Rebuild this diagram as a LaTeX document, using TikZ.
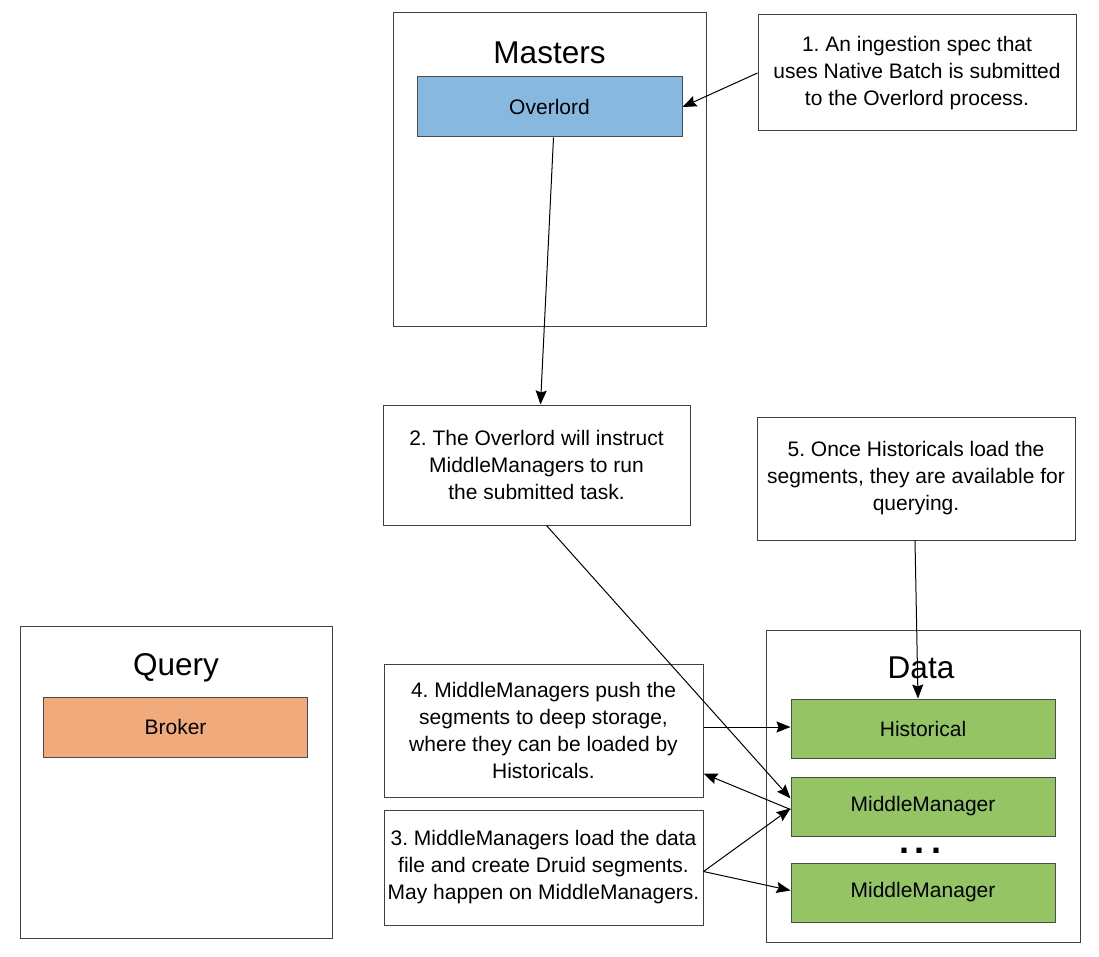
\documentclass[tikz,border=0pt]{standalone}
\usepackage{fontspec}
\setmainfont{Liberation Sans}
\usepackage{xcolor}
\usetikzlibrary{arrows.meta}
\frenchspacing
\definecolor{overlordblue}{RGB}{134,184,224}
\definecolor{brokerorange}{RGB}{240,170,124}
\definecolor{datagreen}{RGB}{148,196,100}
\tikzset{every picture/.style={x=1pt,y=-1pt,>={Stealth[length=14pt,width=11pt,inset=2pt]}},
  group/.style={rectangle,draw=black!75,line width=1pt,minimum width=313pt,minimum height=313pt},
  grouptitle/.style={anchor=base,inner sep=0pt,font=\fontsize{31.5}{34}\selectfont},
  proc/.style={rectangle,draw=black!70,line width=1pt,minimum width=264pt,minimum height=59pt,font=\fontsize{21}{27}\selectfont},
  note/.style={rectangle,draw=black!75,line width=1pt,align=center,inner sep=0pt,font=\fontsize{21}{27}\selectfont},
  flow/.style={->,line width=1pt}}

\begin{document}
\begin{tikzpicture}
        \useasboundingbox (0,0) rectangle (1099,957);

        % groups
        \node[group] (masters) at (549.5,169.5) {};
        \node[grouptitle] (masterstitle) at (549.5,64) {Masters};
        \node[group, minimum width=312pt, minimum height=312pt] (query) at (176,782) {};
        \node[grouptitle] (querytitle) at (176,675) {Query};
        \node[group, minimum width=314pt, minimum height=312pt] (data) at (923,786) {};
        \node[grouptitle] (datatitle) at (921,678) {Data};

        % processes
        \node[proc, fill=overlordblue, minimum width=265pt, minimum height=60pt] (overlord) at (549.5,107) {Overlord};
        \node[proc, fill=brokerorange, minimum height=60pt] (broker) at (175.5,727) {Broker};
        \node[proc, fill=datagreen] (hist) at (923,728.5) {Historical};
        \node[proc, fill=datagreen] (mm1) at (923,806.5) {MiddleManager};
        \node[proc, fill=datagreen] (mm2) at (923,892.5) {MiddleManager};
        \node[anchor=base, inner sep=0pt, font=\fontsize{36}{36}\selectfont\bfseries] (dots) at (920,853) {.\hspace{6pt}.\hspace{6pt}.};

        % steps
        \node[note, minimum width=318pt, minimum height=116pt] (b1) at (917,73)
          {1. An ingestion spec that\\uses Native Batch is submitted\\to the Overlord process.};
        \node[note, minimum width=307pt, minimum height=120pt] (b2) at (536.5,465)
          {2. The Overlord will instruct\\MiddleManagers to run\\the submitted task.};
        \node[note, minimum width=319pt, minimum height=115pt] (b3) at (543.5,867.5)
          {3. MiddleManagers load the data\\file and create Druid segments.\\May happen on MiddleManagers.};
        \node[note, minimum width=319pt, minimum height=133pt] (b4) at (543.5,730.5)
          {4. MiddleManagers push the\\segments to deep storage,\\where they can be loaded by\\Historicals.};
        \node[note, minimum width=318pt, minimum height=123pt] (b5) at (916,478.5)
          {5. Once Historicals load the\\segments, they are available for\\querying.};

        % steps to processes
        \draw[flow] (b1.west) -- (overlord.east);
        \draw[flow] ([xshift=4pt]overlord.south) -- ([xshift=4pt]b2.north);
        \draw[flow] ([xshift=-1pt]b5.south) -- ([xshift=-5pt]hist.north);
        \draw[flow] ([yshift=3.5pt]b4.east) -- ([yshift=1.5pt]hist.west);
        \draw[flow] ([xshift=10pt]b2.south) -- ([yshift=8pt]mm1.west);
        \draw[flow] ([yshift=-3pt]mm1.west) -- ([yshift=-43pt]b4.east);
        \draw[flow] ([yshift=-4pt]b3.east) -- ([yshift=-2pt]mm1.west);
        \draw[flow] ([yshift=-4pt]b3.east) -- ([yshift=2pt]mm2.west);
      \end{tikzpicture}
\end{document}
